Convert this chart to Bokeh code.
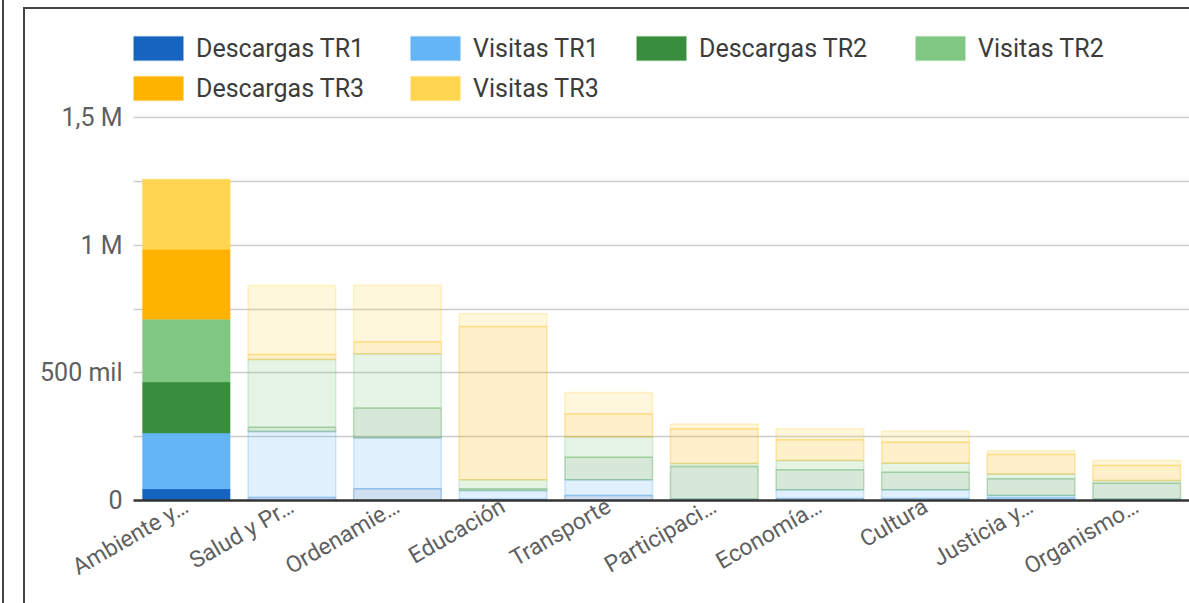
from math import pi
from bokeh.plotting import figure
from bokeh.layouts import row, column
from bokeh.models import (ColumnDataSource, FixedTicker, Legend, LegendItem,
                          FactorRange, Range1d, Div)
from bokeh.embed import file_html
from bokeh.resources import INLINE

categories = ["Ambiente y…", "Salud y Pr…", "Ordenamie…", "Educación", "Transporte",
              "Participaci…", "Economía…", "Cultura", "Justicia y…", "Organismo…"]
series = ["Descargas TR1", "Visitas TR1", "Descargas TR2", "Visitas TR2",
          "Descargas TR3", "Visitas TR3"]
colors = ["#1565C0", "#64B5F6", "#388E3C", "#81C784", "#FFB300", "#FFD54F"]

descargas_tr1 = [46000, 12000, 46000, 5000, 20000, 2000, 8000, 8000, 10000, 3000]
visitas_tr1 = [218000, 258000, 200000, 34000, 61000, 4000, 34000, 34000, 10000, 3000]
descargas_tr2 = [200000, 17000, 116000, 7000, 88000, 127000, 78000, 69000, 65000, 62000]
visitas_tr2 = [246000, 265000, 213000, 35000, 81000, 12000, 37000, 35000, 19000, 10000]
descargas_tr3 = [274000, 20000, 46000, 600000, 89000, 136000, 81000, 82000, 76000, 59000]
visitas_tr3 = [274000, 270000, 222000, 50000, 84000, 19000, 43000, 43000, 16000, 20000]

y_ticks = [0, 500000, 1000000, 1500000]
y_tick_labels = ["0", "500 mil", "1 M", "1,5 M"]
y_minor = [250000, 750000, 1250000]

data = {"cat": categories,
        "Descargas TR1": descargas_tr1, "Visitas TR1": visitas_tr1,
        "Descargas TR2": descargas_tr2, "Visitas TR2": visitas_tr2,
        "Descargas TR3": descargas_tr3, "Visitas TR3": visitas_tr3}
data["falpha"] = [1.0 if i == 0 else 0.2 for i in range(len(categories))]
data["lalpha"] = [0.25 if i == 0 else 0.3 for i in range(len(categories))]
source = ColumnDataSource(data)

# layout (pixels): canvas 1164 x 594, frame from x=108, bottom border 103;
# frame reaches the canvas top so the legend (drawn inside the frame) is visible,
# the axis maximum is chosen so that 1,5 M sits 383 px above the baseline.
CANVAS_H = 594
BOTTOM = 103
frame_h = CANVAS_H - BOTTOM
y_end = y_ticks[-1] * frame_h / 383.0

p = figure(x_range=FactorRange(*categories), y_range=Range1d(0, y_end),
           width=1164, height=CANVAS_H, output_backend="svg", toolbar_location=None,
           min_border_left=108, min_border_right=0, min_border_top=0,
           min_border_bottom=BOTTOM)
p.outline_line_color = None
p.background_fill_color = "white"
p.border_fill_color = "white"

renderers = p.vbar_stack(series, x="cat", width=0.83, source=source, color=colors,
                         fill_alpha="falpha", line_alpha="lalpha", line_width=1.5)

legend_style = dict(orientation="horizontal", glyph_width=62, glyph_height=30,
                    label_standoff=7, spacing=0, padding=0, margin=0,
                    border_line_color=None, background_fill_alpha=0,
                    label_text_font="Roboto", label_text_font_size="25px",
                    label_text_color="#3c3c3c")
legend_offsets = [(-6, 437), (271, 437), (497, 437), (776, 437), (-6, 397), (271, 397)]
for s, r, loc in zip(series, renderers, legend_offsets):
    lg = Legend(items=[LegendItem(label=s, renderers=[r], index=0)], location=loc,
                **legend_style)
    p.add_layout(lg, "center")

# y axis
p.yaxis.ticker = FixedTicker(ticks=y_ticks, minor_ticks=y_minor)
p.yaxis.major_label_overrides = {t: l for t, l in zip(y_ticks, y_tick_labels)}
p.yaxis.axis_line_color = None
p.yaxis.major_tick_line_color = None
p.yaxis.minor_tick_line_color = None
p.yaxis.major_tick_out = 0
p.yaxis.major_tick_in = 0
p.yaxis.minor_tick_out = 0
p.yaxis.major_label_standoff = 11
p.yaxis.major_label_text_font = "Roboto"
p.yaxis.major_label_text_font_size = "25px"
p.yaxis.major_label_text_color = "#5f5f5f"

p.ygrid.grid_line_color = "#cccccc"
p.ygrid.grid_line_width = 1.5
p.ygrid.minor_grid_line_color = "#cccccc"
p.ygrid.minor_grid_line_width = 1.5
p.xgrid.grid_line_color = None

# x axis
p.xaxis.axis_line_color = "#333333"
p.xaxis.axis_line_width = 2.5
p.xaxis.major_tick_line_color = None
p.xaxis.minor_tick_line_color = None
p.xaxis.major_tick_out = 0
p.xaxis.major_tick_in = 0
p.xaxis.minor_tick_out = 0
p.xaxis.major_label_orientation = pi / 6
p.xaxis.major_label_standoff = 4
p.xaxis.major_label_text_font = "Roboto"
p.xaxis.major_label_text_font_size = "23px"
p.xaxis.major_label_text_color = "#5f5f5f"

# frame lines of the original screenshot
def bar_div(w, h, color=None):
    st = {"background-color": color} if color else {}
    return Div(text="", width=w, height=h, margin=0, styles=st)

layout = row(
    bar_div(2, 2),
    bar_div(2, 603, "#444444"),
    bar_div(19, 2),
    column(bar_div(1166, 7),
           bar_div(1166, 2, "#444444"),
           row(bar_div(2, CANVAS_H, "#444444"), p, spacing=0),
           spacing=0),
    spacing=0)

open("out.html", "w").write(file_html(layout, INLINE))
